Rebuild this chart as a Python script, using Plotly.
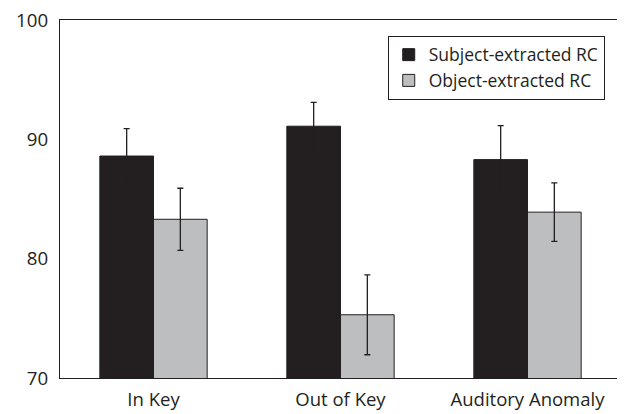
import plotly.graph_objects as go

categories = ["In Key", "Out of Key", "Auditory Anomaly"]
subject_vals = [88.6, 91.1, 88.3]
subject_err = [2.3, 2.0, 2.85]
object_vals = [83.3, 75.3, 83.9]
object_err = [2.6, 3.35, 2.45]
y_ticks = [70, 80, 90, 100]

FONT = "Open Sans"
DARK = "#231f20"

fig = go.Figure()
fig.add_trace(go.Bar(
    x=categories, y=subject_vals, name="Subject-extracted RC",
    marker=dict(color=DARK, line=dict(color=DARK, width=1)),
    error_y=dict(type="data", array=subject_err, color=DARK, thickness=1.3, width=3),
))
fig.add_trace(go.Bar(
    x=categories, y=object_vals, name="Object-extracted RC",
    marker=dict(color="#bcbec0", line=dict(color=DARK, width=1)),
    error_y=dict(type="data", array=object_err, color=DARK, thickness=1.3, width=3),
))

# page body adds an 8px offset; sizes compensate so the plot lands where the reference has it
fig.update_layout(
    width=617, height=406,
    margin=dict(l=52, r=4, t=12, b=36),
    paper_bgcolor="white", plot_bgcolor="white",
    barmode="group", bargap=0.426, bargroupgap=0,
    font=dict(family=FONT, color=DARK, size=17),
    legend=dict(
        x=0.971, y=0.956, xanchor="right", yanchor="top",
        bordercolor=DARK, borderwidth=1, bgcolor="white",
        font=dict(family=FONT, size=17.5, color=DARK),
        tracegroupgap=0,
    ),
    showlegend=True,
)
fig.update_xaxes(
    range=[-0.5, 2.5], showline=True, linecolor=DARK, linewidth=1.2, mirror=True,
    ticks="", showgrid=False, tickfont=dict(size=18.5, family=FONT, color=DARK),
    ticklabelstandoff=5, automargin=False, ticklabeloverflow="allow",
)
fig.update_yaxes(
    range=[70, 100], tickvals=y_ticks, showline=True, linecolor=DARK, linewidth=1.2,
    mirror=True, ticks="", showgrid=False, zeroline=False,
    tickfont=dict(size=18.7, family=FONT, color=DARK), ticklabelstandoff=7,
    automargin=False, ticklabeloverflow="allow",
)

fig.write_html("out.html")
